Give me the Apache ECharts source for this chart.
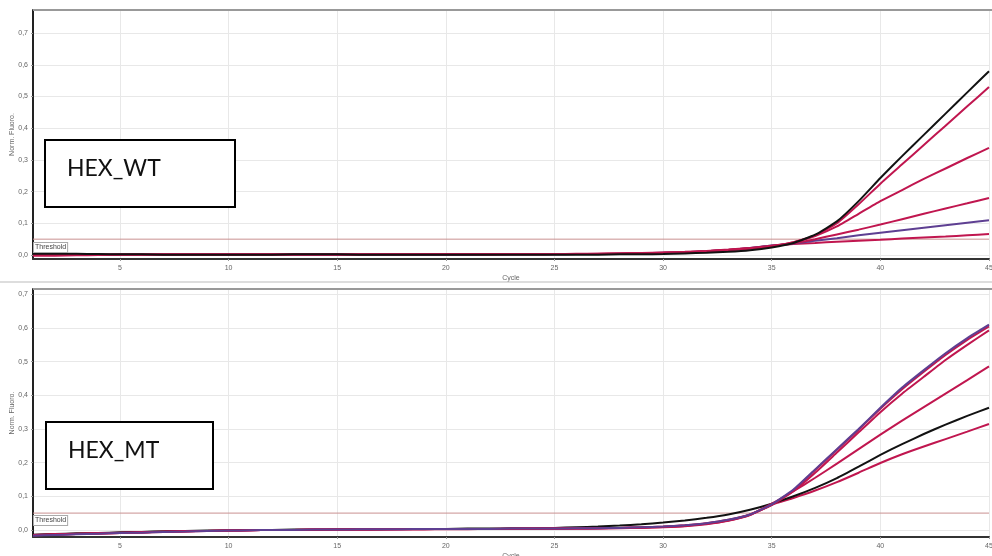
<!DOCTYPE html>
<html>
<head>
<meta charset="utf-8">
<script src="https://cdn.jsdelivr.net/npm/echarts@6/dist/echarts.min.js"></script>
<style>
html,body{margin:0;padding:0;background:#fff;}
#chart{width:992px;height:556px;}
</style>
</head>
<body>
<div id="chart"></div>
<script>
// ---------- DATA ----------
const cycles = [1,2,3,4,5,6,7,8,9,10,11,12,13,14,15,16,17,18,19,20,21,22,23,24,25,26,27,28,29,30,31,32,33,34,35,36,37,38,39,40,41,42,43,44,45];
const xTicks = [5,10,15,20,25,30,35,40,45];
const yTicks = [0,0.1,0.2,0.3,0.4,0.5,0.6,0.7];
const threshold = 0.05;
const panelLabels = ['HEX_WT', 'HEX_MT'];

// Top panel (HEX_WT)
const wtBlack = [0.004,0.004,0.004,0.003,0.002,0.002,0.001,0.001,0.001,0.001,
  0.001,0.001,0.002,0.002,0.002,0.001,0.001,0.001,0.001,0.001,
  0.001,0.001,0.001,0.001,0.001,0.001,0.001,0.002,0.002,0.003,
  0.005,0.007,0.010,0.015,0.024,0.038,0.064,0.106,0.170,0.243,
  0.312,0.379,0.446,0.513,0.580];
const wtCrimson1 = [0.001,0.001,0.001,0.001,0.002,0.002,0.002,0.002,0.002,0.002,
  0.002,0.002,0.002,0.002,0.002,0.002,0.002,0.002,0.002,0.002,
  0.002,0.002,0.002,0.002,0.003,0.003,0.003,0.004,0.005,0.006,
  0.008,0.011,0.015,0.020,0.027,0.040,0.062,0.100,0.160,0.225,
  0.286,0.347,0.408,0.469,0.530];
const wtCrimson2 = [0.001,0.001,0.001,0.001,0.001,0.001,0.002,0.002,0.002,0.002,
  0.002,0.002,0.002,0.002,0.002,0.002,0.002,0.002,0.003,0.003,
  0.003,0.003,0.003,0.003,0.003,0.004,0.004,0.005,0.006,0.007,
  0.009,0.012,0.016,0.021,0.028,0.040,0.060,0.090,0.130,0.170,
  0.205,0.240,0.273,0.306,0.338];
const wtCrimson3 = [0.000,0.000,0.001,0.001,0.001,0.001,0.001,0.001,0.001,0.001,
  0.001,0.001,0.001,0.001,0.001,0.001,0.002,0.002,0.002,0.002,
  0.002,0.002,0.002,0.002,0.003,0.003,0.004,0.005,0.006,0.008,
  0.010,0.013,0.017,0.022,0.029,0.037,0.050,0.065,0.080,0.096,
  0.113,0.130,0.147,0.163,0.180];
const wtPurple = [0.001,0.001,0.001,0.001,0.001,0.001,0.001,0.001,0.001,0.001,
  0.001,0.001,0.001,0.001,0.001,0.001,0.001,0.001,0.001,0.001,
  0.001,0.002,0.002,0.002,0.002,0.003,0.003,0.004,0.005,0.007,
  0.009,0.012,0.016,0.022,0.030,0.036,0.045,0.053,0.062,0.070,
  0.078,0.086,0.094,0.102,0.110];
const wtCrimson4 = [-0.002,-0.002,-0.001,0.000,0.000,0.001,0.001,0.001,0.001,0.001,
  0.001,0.001,0.001,0.001,0.001,0.001,0.001,0.001,0.001,0.001,
  0.001,0.001,0.002,0.002,0.002,0.003,0.003,0.004,0.005,0.007,
  0.009,0.012,0.016,0.022,0.030,0.035,0.038,0.042,0.045,0.048,
  0.052,0.055,0.058,0.062,0.066];

// Bottom panel (HEX_MT)
const mtBlack = [-0.014,-0.012,-0.010,-0.009,-0.007,-0.006,-0.004,-0.003,-0.002,-0.001,
  0.000,0.000,0.001,0.001,0.002,0.002,0.002,0.003,0.003,0.003,
  0.004,0.004,0.005,0.005,0.006,0.008,0.010,0.013,0.017,0.022,
  0.028,0.036,0.046,0.060,0.078,0.100,0.125,0.154,0.188,0.223,
  0.255,0.285,0.313,0.339,0.363];
const mtCrimsonA = [-0.016,-0.014,-0.012,-0.010,-0.009,-0.007,-0.006,-0.004,-0.003,-0.002,
  -0.001,0.000,0.000,0.001,0.001,0.002,0.002,0.002,0.003,0.003,
  0.003,0.003,0.004,0.004,0.004,0.005,0.005,0.006,0.008,0.010,
  0.014,0.020,0.030,0.046,0.075,0.118,0.178,0.238,0.298,0.360,
  0.418,0.470,0.520,0.565,0.605];
const mtCrimsonB = [-0.015,-0.013,-0.011,-0.010,-0.008,-0.007,-0.005,-0.004,-0.003,-0.002,
  -0.001,0.000,0.000,0.001,0.001,0.001,0.002,0.002,0.002,0.003,
  0.003,0.003,0.003,0.004,0.004,0.004,0.005,0.006,0.007,0.009,
  0.013,0.019,0.029,0.045,0.074,0.115,0.170,0.230,0.290,0.350,
  0.405,0.455,0.505,0.550,0.593];
const mtCrimsonC = [-0.015,-0.013,-0.012,-0.010,-0.009,-0.007,-0.006,-0.004,-0.003,-0.002,
  -0.001,0.000,0.000,0.001,0.001,0.001,0.002,0.002,0.002,0.003,
  0.003,0.003,0.003,0.004,0.004,0.004,0.005,0.006,0.007,0.009,
  0.012,0.018,0.028,0.045,0.078,0.115,0.155,0.197,0.240,0.283,
  0.325,0.365,0.405,0.445,0.486];
const mtCrimsonD = [-0.016,-0.014,-0.012,-0.011,-0.009,-0.008,-0.006,-0.005,-0.003,-0.002,
  -0.001,0.000,0.000,0.000,0.001,0.001,0.001,0.002,0.002,0.002,
  0.002,0.003,0.003,0.003,0.003,0.004,0.004,0.005,0.006,0.008,
  0.011,0.017,0.027,0.044,0.075,0.095,0.117,0.142,0.170,0.199,
  0.225,0.248,0.270,0.292,0.315];
const mtPurple = [-0.017,-0.015,-0.013,-0.011,-0.009,-0.008,-0.006,-0.005,-0.003,-0.002,
  -0.001,0.000,0.000,0.001,0.001,0.002,0.002,0.002,0.003,0.003,
  0.003,0.003,0.004,0.004,0.004,0.005,0.005,0.006,0.008,0.010,
  0.014,0.020,0.030,0.046,0.076,0.120,0.180,0.240,0.300,0.363,
  0.423,0.475,0.525,0.570,0.610];

// ---------- STYLE ----------
const BLACK = '#121212', CRIMSON = '#c0164f', PURPLE = '#5e3f92', THR = '#c99090';
const labelFont = {fontFamily: 'Liberation Sans', fontSize: 7, color: '#666'};

function pairs(arr){ return cycles.map((c,i)=>[c, arr[i]]); }

function lineSeries(arr, color, idx, z){
  return {type:'line', xAxisIndex:idx, yAxisIndex:idx, data:pairs(arr), showSymbol:false,
    symbol:'none', smooth:0.15, lineStyle:{color:color, width:2}, z:z||3, silent:true, animation:false};
}
function thrSeries(idx){
  return {type:'line', xAxisIndex:idx, yAxisIndex:idx, data:[[cycles[0],threshold],[cycles[cycles.length-1],threshold]],
    showSymbol:false, symbol:'none', lineStyle:{color:THR, width:1}, z:2, silent:true, animation:false};
}

function xAxisDef(idx){
  return {type:'value', gridIndex:idx, min:cycles[0], max:cycles[cycles.length-1],
    name:'Cycle', nameLocation:'middle', nameGap:16, nameTextStyle:labelFont, nameMoveOverlap:false,
    axisLine:{show:true, onZero:false, lineStyle:{color:'#333', width:2}},
    axisTick:{show:true, customValues:xTicks, length:2, lineStyle:{color:'#999'}},
    axisLabel:{customValues:xTicks, ...labelFont, margin:6},
    splitLine:{show:true, lineStyle:{color:'#e8e8e8', width:1}}};
}
function yAxisDef(idx, min, max){
  return {type:'value', gridIndex:idx, min:min, max:max,
    name:'Norm. Fluoro.', nameLocation:'middle', nameGap:17, nameTextStyle:labelFont, nameMoveOverlap:false,
    axisLine:{show:true, onZero:false, lineStyle:{color:'#222', width:2}},
    axisTick:{show:true, customValues:yTicks, length:2, lineStyle:{color:'#999'}},
    axisLabel:{customValues:yTicks, ...labelFont, margin:5, formatter:v=>v.toFixed(1).replace('.',',')},
    splitLine:{show:true, lineStyle:{color:'#e8e8e8', width:1}}};
}

const chart = echarts.init(document.getElementById('chart'), null, {renderer:'canvas'});

function boxGraphic(x,y,w,h,label){
  return [
    {type:'rect', z:100, shape:{x:x, y:y, width:w, height:h}, style:{fill:'#fff', stroke:'#000', lineWidth:2}},
    {type:'text', z:101, style:{x:x+22, y:y+29, text:label, font:'23px Lato', fill:'#111', textVerticalAlign:'middle'}}
  ];
}
function thrLabel(x,y){
  return {type:'text', z:100, style:{x:x, y:y, text:'Threshold', font:'7px "Liberation Sans"', fill:'#444',
    backgroundColor:'#fff', borderColor:'#aaa', borderWidth:1, padding:[1,1,1,1]}};
}

chart.setOption({
  animation:false,
  backgroundColor:'#fff',
  grid:[
    {left:33, top:10, width:956, height:249, containLabel:false, outerBoundsMode:'none'},
    {left:33, top:289, width:956, height:248, containLabel:false, outerBoundsMode:'none'}
  ],
  xAxis:[xAxisDef(0), xAxisDef(1)],
  yAxis:[yAxisDef(0,-0.0126,0.773), yAxisDef(1,-0.021,0.716)],
  series:[
    thrSeries(0),
    lineSeries(wtCrimson4, CRIMSON, 0),
    lineSeries(wtPurple, PURPLE, 0),
    lineSeries(wtCrimson3, CRIMSON, 0),
    lineSeries(wtCrimson2, CRIMSON, 0),
    lineSeries(wtCrimson1, CRIMSON, 0),
    lineSeries(wtBlack, BLACK, 0, 4),
    thrSeries(1),
    lineSeries(mtCrimsonD, CRIMSON, 1),
    lineSeries(mtBlack, BLACK, 1),
    lineSeries(mtCrimsonC, CRIMSON, 1),
    lineSeries(mtCrimsonB, CRIMSON, 1),
    lineSeries(mtCrimsonA, CRIMSON, 1),
    lineSeries(mtPurple, PURPLE, 1, 4)
  ],
  graphic:[
    {type:'line', z:50, shape:{x1:33, y1:10, x2:992, y2:10}, style:{stroke:'#999', lineWidth:2}},
    {type:'line', z:50, shape:{x1:0, y1:282, x2:992, y2:282}, style:{stroke:'#bbb', lineWidth:1}},
    {type:'line', z:50, shape:{x1:33, y1:289, x2:992, y2:289}, style:{stroke:'#999', lineWidth:2}},
    ...boxGraphic(45,140,190,67,panelLabels[0]),
    ...boxGraphic(46,422,167,67,panelLabels[1]),
    thrLabel(34,243),
    thrLabel(34,516)
  ]
});
</script>
</body>
</html>
